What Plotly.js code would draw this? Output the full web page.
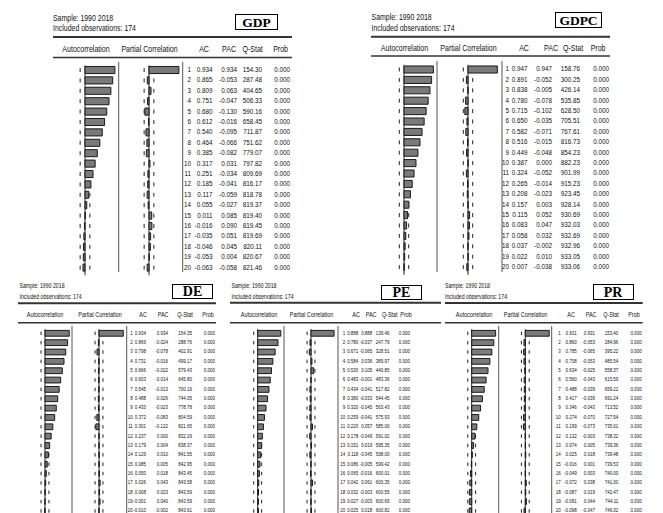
<!DOCTYPE html>
<html><head><meta charset="utf-8">
<script src="https://cdn.plot.ly/plotly-3.0.1.min.js"></script>
<style>
html,body{margin:0;padding:0;background:#fff;}
#chart{width:663px;height:513px;}
/* condensed (narrow) look of the original table font */
#chart .textpoint text{transform-box:fill-box;transform:scaleX(0.8);}
#chart .textpoint text[text-anchor="end"]{transform-origin:100% 50%;}
#chart .textpoint text[text-anchor="start"]{transform-origin:0% 50%;}
#chart .textpoint text[text-anchor="middle"]{transform-origin:50% 50%;}
</style>
</head><body><div id="chart"></div>
<script>
// ---------------- DATA ----------------
const lags = [1,2,3,4,5,6,7,8,9,10,11,12,13,14,15,16,17,18,19,20];
const sampleText = 'Sample: 1990 2018';
const obsText = 'Included observations: 174';
const nObs = 174;
const headerLabels = ['Autocorrelation','Partial Correlation','AC','PAC','Q-Stat','Prob'];
const seriesNames = ['GDP','GDPC','DE','PE','PR'];

const gdpAC  = [0.934,0.865,0.809,0.751,0.680,0.612,0.540,0.464,0.385,0.317,0.251,0.185,0.117,0.055,0.011,-0.016,-0.035,-0.046,-0.053,-0.063];
const gdpPAC = [0.934,-0.053,0.063,-0.047,-0.130,-0.016,-0.095,-0.066,-0.082,0.031,-0.034,-0.041,-0.059,-0.027,0.085,0.090,0.051,0.045,0.004,-0.058];
const gdpQ   = [154.30,287.48,404.65,506.33,590.16,658.45,711.87,751.62,779.07,797.82,809.69,816.17,818.78,819.37,819.40,819.45,819.69,820.11,820.67,821.46];
const gdpProb = [0,0,0,0,0,0,0,0,0,0,0,0,0,0,0,0,0,0,0,0];

const gdpcAC  = [0.947,0.891,0.838,0.780,0.715,0.650,0.582,0.516,0.449,0.387,0.324,0.265,0.208,0.157,0.115,0.083,0.058,0.037,0.022,0.007];
const gdpcPAC = [0.947,-0.052,-0.005,-0.078,-0.102,-0.035,-0.071,-0.015,-0.048,0.000,-0.052,-0.014,-0.023,0.003,0.052,0.047,0.032,-0.002,0.010,-0.038];
const gdpcQ   = [158.76,300.25,426.14,535.85,628.50,705.51,767.61,816.73,854.23,882.23,901.99,915.23,923.45,928.14,930.69,932.03,932.69,932.96,933.05,933.06];
const gdpcProb = [0,0,0,0,0,0,0,0,0,0,0,0,0,0,0,0,0,0,0,0];

const deAC  = [0.934,0.869,0.798,0.731,0.666,0.603,0.545,0.488,0.433,0.372,0.301,0.237,0.179,0.129,0.085,0.050,0.026,0.008,-0.001,-0.010];
const dePAC = [0.934,-0.024,-0.078,-0.016,-0.022,-0.014,-0.013,-0.026,-0.023,-0.083,-0.122,0.000,0.004,0.010,0.005,0.018,0.043,0.023,0.040,-0.002];
const deQ   = [154.35,288.76,402.91,499.17,579.43,645.80,700.19,744.05,778.78,804.59,821.65,832.29,838.37,841.55,842.95,843.45,843.58,843.59,843.59,843.61];
const deProb = [0,0,0,0,0,0,0,0,0,0,0,0,0,0,0,0,0,0,0,0];

const peAC  = [0.888,0.780,0.671,0.584,0.530,0.483,0.434,0.380,0.320,0.259,0.220,0.178,0.151,0.118,0.086,0.065,0.042,0.032,0.027,0.025];
const pePAC = [0.888,-0.037,-0.065,0.036,0.105,-0.001,-0.041,-0.033,-0.045,-0.041,0.057,-0.049,0.019,-0.045,-0.005,-0.016,0.061,-0.003,-0.003,0.018];
const peQ   = [139.46,247.79,328.51,389.97,440.85,483.36,517.82,544.45,563.43,575.93,585.00,591.02,595.35,598.00,599.42,600.01,600.35,600.55,600.69,600.82];
const peProb = [0,0,0,0,0,0,0,0,0,0,0,0,0,0,0,0,0,0,0,0];

const prAC  = [0.931,0.860,0.785,0.708,0.634,0.560,0.488,0.417,0.346,0.274,0.199,0.132,0.074,0.025,-0.016,-0.049,-0.072,-0.087,-0.091,-0.098];
const prPAC = [0.931,-0.053,-0.065,-0.053,-0.025,-0.043,-0.039,-0.039,-0.043,-0.070,-0.073,-0.003,0.005,0.018,0.001,0.003,0.038,0.019,0.044,-0.047];
const prQ   = [153.40,284.96,395.22,485.54,558.37,615.59,659.22,691.24,713.52,727.54,735.01,738.32,739.36,739.48,739.53,740.00,741.00,742.47,744.11,746.02];
const prProb = [0,0,0,0,0,0,0,0,0,0,0,0,0,0,0,0,0,0,0,0];

// ---------------- LAYOUT CONFIG (pixels) ----------------
const W = 663, H = 513;
const FONT = 'Liberation Sans, Arial, sans-serif';
const SERIF = 'Liberation Serif, Times New Roman, serif';
const band = 2 / Math.sqrt(nObs);

const panels = [
  {title:seriesNames[0], ac:gdpAC, pac:gdpPAC, q:gdpQ, prob:gdpProb,
   row1:70, dy:10.4, acZero:85, pacZero:149, scale:32, acBox:[55,118], pacBox:[120,182],
   sep:[118.7,182.7], sepY:[62,272],
   cols:{lag:191, ac:212.5, pac:237, q:262, prob:290},
   hdr:{y:50, pos:[86,149.5,204,229,252.5,280.5]},
   smp:{x:53, y1:18.5, y2:28.5}, rule:{x0:53, x1:292, y0:37, y1:57.5},
   box:{cx:256.5, cy:22, w:43, h:16, size:13.5},
   fs:{hdr:8.8, num:7.9, smp:8.7}, barW:0.68, dl:4},
  {title:seriesNames[1], ac:gdpcAC, pac:gdpcPAC, q:gdpcQ, prob:gdpcProb,
   row1:69.5, dy:10.4, acZero:404, pacZero:468, scale:31, acBox:[375,437], pacBox:[440,502],
   sep:[437,502], sepY:[61,272],
   cols:{lag:509, ac:527.5, pac:552, q:580, prob:609},
   hdr:{y:49.3, pos:[404.5,468.5,524,551,573,598]},
   smp:{x:371.5, y1:18.3, y2:28.5}, rule:{x0:371, x1:610, y0:36.7, y1:56},
   box:{cx:578.5, cy:20.3, w:47, h:16, size:13.5},
   fs:{hdr:8.8, num:7.9, smp:8.7}, barW:0.68, dl:4},
  {title:seriesNames[2], ac:deAC, pac:dePAC, q:deQ, prob:deProb,
   row1:333.3, dy:9.35, acZero:45, pacZero:99, scale:26, acBox:[25,71], pacBox:[75,126],
   sep:[72,126.7], sepY:[326,513],
   cols:{lag:132.8, ac:146, pac:168, q:192, prob:215},
   hdr:{y:315, pos:[45,100,143,163,185,208]},
   smp:{x:19.5, y1:286, y2:297.3}, rule:{x0:18, x1:216, y0:303.3, y1:322.7},
   box:{cx:192.5, cy:291.7, w:41, h:15, size:14},
   fs:{hdr:6.8, num:5.6, smp:6.5}, barW:0.62, dl:3.5},
  {title:seriesNames[3], ac:peAC, pac:pePAC, q:peQ, prob:peProb,
   row1:333.3, dy:9.35, acZero:257.7, pacZero:311, scale:26, acBox:[235,283], pacBox:[288,337],
   sep:[284,338], sepY:[326,513],
   cols:{lag:345.2, ac:358.3, pac:372.3, q:389.5, prob:410},
   hdr:{y:315, pos:[259,311.5,356,371,389.7,406]},
   smp:{x:231.5, y1:286, y2:297.3}, rule:{x0:230, x1:441, y0:302.8, y1:322.7},
   box:{cx:401.5, cy:292, w:41, h:15, size:14},
   fs:{hdr:6.8, num:5.6, smp:6.5}, barW:0.62, dl:3.5},
  {title:seriesNames[4], ac:prAC, pac:prPAC, q:prQ, prob:prProb,
   row1:333.3, dy:9.35, acZero:471.7, pacZero:525.3, scale:25.7, acBox:[450,498], pacBox:[503,551],
   sep:[498.7,551.7], sepY:[326,513],
   cols:{lag:560.7, ac:576.7, pac:595, q:618.3, prob:641.7},
   hdr:{y:315, pos:[474,525.5,571,591,611,634]},
   smp:{x:445, y1:286, y2:297.3}, rule:{x0:445, x1:642.7, y0:303, y1:322.7},
   box:{cx:613.5, cy:292, w:41, h:16, size:14},
   fs:{hdr:6.8, num:5.6, smp:6.5}, barW:0.62, dl:3.5}
];

// ---------------- BUILD ----------------
const px = v => v / W;
const py = v => 1 - v / H;
const hidden = {visible:false, fixedrange:true, showgrid:false, zeroline:false};
const layout = {
  width:W, height:H, margin:{l:0,r:0,t:0,b:0},
  paper_bgcolor:'#ffffff', plot_bgcolor:'rgba(0,0,0,0)', showlegend:false,
  xaxis:Object.assign({}, hidden, {domain:[0,1], range:[0,W]}),
  yaxis:Object.assign({}, hidden, {domain:[0,1], range:[H,0]}),
  shapes:[], annotations:[], hovermode:false
};
const traces = [];
let xi = 2, yi = 2;
const INK = '#111111';

function pxText(x, y, txt, pos, size) {
  traces.push({type:'scatter', mode:'text', x:[x], y:[y], text:[txt], xaxis:'x', yaxis:'y',
    textposition:pos, cliponaxis:false, hoverinfo:'skip', textfont:{family:FONT, size:size, color:INK}});
}

panels.forEach(p => {
  const yRef = 'y' + yi;
  const yName = 'yaxis' + yi;
  yi++;
  const topPx = p.row1 - 0.75 * p.dy;
  const botPx = Math.min(H, p.row1 + 19.75 * p.dy);
  const lagTop = 1 + (topPx - p.row1) / p.dy;
  const lagBot = 1 + (botPx - p.row1) / p.dy;
  layout[yName] = Object.assign({}, hidden, {domain:[1 - botPx / H, 1 - topPx / H], range:[lagBot, lagTop]});

  [['ac', p.acZero, p.acBox], ['pac', p.pacZero, p.pacBox]].forEach(([key, zero, box]) => {
    const xRef = 'x' + xi;
    layout['xaxis' + xi] = Object.assign({}, hidden, {
      domain:[px(box[0]), px(box[1])],
      range:[(box[0] - zero) / p.scale, (box[1] - zero) / p.scale], anchor:yRef});
    xi++;
    traces.push({type:'bar', orientation:'h', x:p[key], y:lags, xaxis:xRef, yaxis:yRef,
      width:p.barW, marker:{color:'#7a7a7a', line:{color:'#1a1a1a', width:1}}, hoverinfo:'skip', cliponaxis:false});
    layout.shapes.push({type:'line', xref:xRef, yref:yRef, x0:0, x1:0, y0:0.55, y1:lagBot,
      line:{color:'#222', width:1}, layer:'below'});
    [-band, band].forEach(b => {
      layout.shapes.push({type:'line', xref:xRef, yref:yRef, x0:b, x1:b,
        y0:1 - (p.dl / 2) / p.dy, y1:lagBot,
        line:{color:'#222', width:1, dash:p.dl + 'px,' + (p.dy - p.dl).toFixed(2) + 'px'}, layer:'below'});
    });
  });

  const cols = [
    ['lag', lags.map(String)],
    ['ac', p.ac.map(v => v.toFixed(3))],
    ['pac', p.pac.map(v => v.toFixed(3))],
    ['q', p.q.map(v => v.toFixed(2))],
    ['prob', p.prob.map(v => v.toFixed(3))]
  ];
  cols.forEach(([key, txt]) => {
    traces.push({type:'scatter', mode:'text', x:lags.map(() => p.cols[key]), y:lags, text:txt,
      xaxis:'x', yaxis:yRef, textposition:'middle left', cliponaxis:false, hoverinfo:'skip',
      textfont:{family:FONT, size:p.fs.num, color:INK}});
  });

  layout.shapes.push({type:'line', xref:'paper', yref:'paper', x0:px(p.rule.x0), x1:px(p.rule.x1), y0:py(p.rule.y0), y1:py(p.rule.y0), line:{color:'#333', width:2}});
  layout.shapes.push({type:'line', xref:'paper', yref:'paper', x0:px(p.rule.x0), x1:px(p.rule.x1), y0:py(p.rule.y1), y1:py(p.rule.y1), line:{color:'#333', width:1.5}});
  p.sep.forEach(s => layout.shapes.push({type:'line', xref:'paper', yref:'paper', x0:px(s), x1:px(s), y0:py(p.sepY[0]), y1:py(p.sepY[1]), line:{color:'#555', width:1}}));

  pxText(p.smp.x, p.smp.y1, sampleText, 'middle right', p.fs.smp);
  pxText(p.smp.x, p.smp.y2, obsText, 'middle right', p.fs.smp);
  headerLabels.forEach((h, i) => pxText(p.hdr.pos[i], p.hdr.y, h, 'middle center', p.fs.hdr));

  layout.annotations.push({xref:'paper', yref:'paper', x:px(p.box.cx), y:py(p.box.cy), text:'<b>' + p.title + '</b>', showarrow:false,
    xanchor:'center', yanchor:'middle', width:p.box.w - 2, height:p.box.h - 2, borderpad:0, borderwidth:1, bordercolor:'#000', bgcolor:'#fff',
    font:{family:SERIF, size:p.box.size, color:'#000'}});
});

Plotly.newPlot('chart', traces, layout, {staticPlot:true, displayModeBar:false});
</script></body></html>
